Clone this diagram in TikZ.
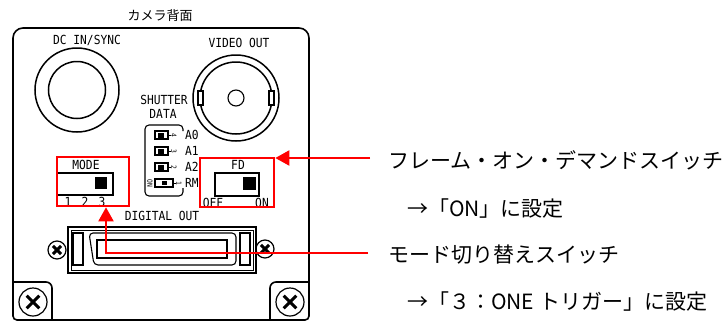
\documentclass[tikz,border=0pt]{standalone}
\usepackage{fontspec}
\newfontfamily\jp{Noto Sans CJK JP}
\newfontfamily\lbl[FakeStretch=0.9]{DejaVu Sans Mono}
\usetikzlibrary{arrows.meta}
\newcommand\screwat[4]{% name, x, y, radius
  \node[circle,draw,line width=1.2pt,minimum size=#4*2pt,inner sep=0pt] (#1) at (#2,#3) {};
  \draw[line width=3pt] (#1.center) ++({-0.45*#4},{-0.45*#4}) -- ++({0.9*#4},{0.9*#4});
  \draw[line width=3pt] (#1.center) ++({-0.45*#4},{0.45*#4}) -- ++({0.9*#4},{-0.9*#4});
}
\begin{document}
\begin{tikzpicture}[x=1pt,y=-1pt,
  body/.style={line width=1.6pt},
  thinl/.style={line width=1.1pt},
  ring/.style={line width=1.5pt},
  redbox/.style={draw=red,line width=2.6pt,inner sep=0pt},
  redarrow/.style={draw=red,line width=2pt,-{Triangle[length=14pt,width=15pt]}},
  lab/.style={font=\lbl\fontsize{12.5}{12.5}\selectfont,inner sep=0pt},
  tiny/.style={font=\lbl\fontsize{7}{7}\selectfont,inner sep=0pt,rotate=-90},
  jptext/.style={font=\jp\fontsize{21}{21}\selectfont,anchor=west,inner sep=0pt},
]
\useasboundingbox (0,0) rectangle (728,322);
% title
\node[font=\jp\fontsize{13}{13}\selectfont,inner sep=0pt] (title) at (160,16) {カメラ背面};
% body
\draw[body,rounded corners=10pt] (13,150) -- (13,28) -- (309,28) -- (309,150);
\draw[body,rounded corners=4pt] (13,149) -- (13,320) -- (309,320) -- (309,149);
\draw[body,rounded corners=6pt] (13,282) -- (52,282) -- (52,320);
\draw[body,rounded corners=6pt] (309,282) -- (270,282) -- (270,320);
\screwat{sbl}{33}{302}{14}
\screwat{sbr}{290}{302}{14}
% DC IN
\node[lab] (dclab) at (87,40) {DC IN/SYNC};
\coordinate (dcc) at (77,90);
\draw[ring] (dcc) circle[radius=42];
\draw[ring] (dcc) circle[radius=28.5];
% VIDEO OUT
\node[lab] (vidlab) at (239,43) {VIDEO OUT};
\coordinate (vidc) at (236,98);
\draw[ring] (vidc) circle[radius=43];
\draw[ring] (vidc) circle[radius=36];
\draw[line width=1.1pt] (vidc) circle[radius=8];
\draw[thinl,fill=white] (198,91) rectangle (203,105);
\draw[thinl,fill=white] (269,91) rectangle (274,105);
% shutter data
\node[lab] (shut) at (164,100) {SHUTTER};
\node[lab] (data) at (163,114) {DATA};
\draw[thinl,rounded corners=4pt] (183,131) -- (183,125) -- (145,125) -- (145,196) -- (183,196) -- (183,188);
\foreach \yy/\dd/\ll [count=\i] in {135/4/A0,151/3/A1,167/2/A2}{
  \draw[thinl] (155,\yy-4) rectangle (168,\yy+4);
  \fill (157.5,\yy-2.5) rectangle (163.5,\yy+2.5);
  \draw[line width=0.8pt] (168,\yy) -- (171,\yy);
  \node[tiny] (dd\i) at (174,\yy) {\dd};
  \node[lab,anchor=west] (al\i) at (185,\yy) {\ll};
}
\draw[thinl] (155,179) rectangle (173,187);
\fill (162,181) rectangle (167,185);
\draw[line width=0.8pt] (173,183) -- (176,183);
\node[tiny] (dd4) at (179,183) {1};
\node[tiny] (onl) at (150,183) {ON};
\node[lab,anchor=west] (al4) at (185,183) {RM};
% MODE switch
\node[lab] (modelab) at (86,165) {MODE};
\draw[thinl] (57,173) rectangle (113,195);
\fill (95,177) rectangle (107,189);
\node[lab] (m1) at (68,202) {1};
\node[lab] (m2) at (85,202) {2};
\node[lab] (m3) at (102,202) {3};
\node[redbox,minimum width=72pt,minimum height=49pt] (modebox) at (93,181.5) {};
% FD switch
\node[lab] (fdlab) at (238,165) {FD};
\draw[thinl] (215,173) rectangle (259,196);
\fill (243,177) rectangle (256,190);
\node[lab] (off) at (213,203) {OFF};
\node[lab] (on) at (262,203) {ON};
\node[redbox,minimum width=74pt,minimum height=49pt] (fdbox) at (237,182.5) {};
% digital out
\node[lab] (dolab) at (162,216) {DIGITAL OUT};
\draw[line width=2pt] (68,227) rectangle (256,273);
\draw[line width=0.9pt] (71,230) rectangle (253,270);
\draw[thinl] (73,233) rectangle (83,265);
\draw[thinl] (240,233) rectangle (250,265);
\draw[thinl,rounded corners=4pt] (89,233) -- (236,233) -- (236,265) -- (94,265) -- cycle;
\draw[line width=1.4pt] (97,240) rectangle (227,258);
\screwat{scl}{57}{250}{9}
\screwat{scr}{265}{249}{9}
% red arrows
\coordinate (a1s) at (370,158);
\draw[redarrow] (a1s) -- (a1s -| fdbox.east);
\coordinate (a2s) at (368,253);
\coordinate (a2c) at (106,253);
\draw[redarrow] (a2s) -- (a2c) -- (a2c |- modebox.south);
% texts
\node[jptext] (t1) at (388,160) {フレーム・オン・デマンドスイッチ};
\node[jptext] (t2) at (407,209) {→「ON」に設定};
\node[jptext] (t3) at (388,255) {モード切り替えスイッチ};
\node[jptext] (t4) at (407,302) {→「３：ONE トリガー」に設定};
\end{tikzpicture}
\end{document}
